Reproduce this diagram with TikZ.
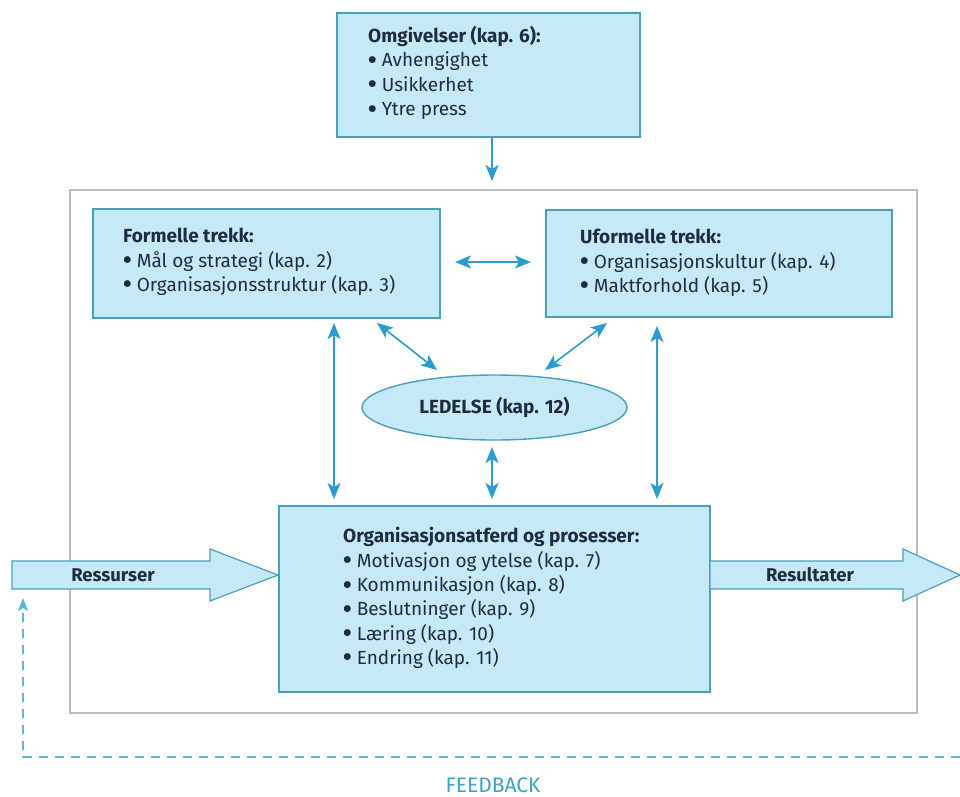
\documentclass[tikz,border=0pt]{standalone}
\usepackage{fontspec}
\setmainfont{Fira Sans}
\usetikzlibrary{arrows.meta,shapes.geometric,calc}
\definecolor{boxfill}{HTML}{C6E9F8}
\definecolor{boxline}{HTML}{4A9FBA}
\definecolor{arrowblue}{HTML}{2B9BD0}
\definecolor{txt}{HTML}{1F2D3A}
\definecolor{outergray}{HTML}{BDBDBD}
\definecolor{dashblue}{HTML}{5DB6D6}
\definecolor{fbtext}{HTML}{3DA3C2}
\newcommand{\bul}{\raisebox{-0.15ex}{\scalebox{1.3}{\bfseries\textbullet}}\ }
\begin{document}
\begin{tikzpicture}[x=1pt,y=-1pt,
  bluebox/.style={draw=boxline,fill=boxfill,line width=1.4pt,inner sep=0pt},
  boxtext/.style={anchor=west,align=left,text=txt,inner sep=0pt,font=\fontsize{19}{24.3}\selectfont},
  twoway/.style={draw=arrowblue,line width=1.6pt,{Stealth[length=16pt,width=13pt,inset=4pt]}-{Stealth[length=16pt,width=13pt,inset=4pt]}},
  oneway/.style={draw=arrowblue,line width=1.6pt,-{Stealth[length=16pt,width=13pt,inset=4pt]}},
  blockarrow/.style={draw=boxline,fill=boxfill,line width=1.2pt,line join=miter},
  arrowlabel/.style={text=txt,font=\fontsize{18.5}{20}\selectfont\bfseries,inner sep=0pt}]
\useasboundingbox (0,0) rectangle (960,796);
\fill[white] (0,0) rectangle (960,796);

% outer frame
\draw[outergray,line width=1.5pt] (70,190) rectangle (917,713);

% boxes
\node[bluebox,minimum width=303pt,minimum height=124pt] (omg) at (488.5,75) {};
\node[boxtext] (omgt) at (368,73) {\textbf{Omgivelser (kap. 6):}\\\bul Avhengighet\\\bul Usikkerhet\\\bul Ytre press};

\node[bluebox,minimum width=347pt,minimum height=109pt] (form) at (266.5,263.5) {};
\node[boxtext] (formt) at (123,262) {\textbf{Formelle trekk:}\\\bul Mål og strategi (kap. 2)\\\bul Organisasjonsstruktur (kap. 3)};

\node[bluebox,minimum width=346pt,minimum height=107pt] (uform) at (719,263.5) {};
\node[boxtext] (uformt) at (580,263) {\textbf{Uformelle trekk:}\\\bul Organisasjonskultur (kap. 4)\\\bul Maktforhold (kap. 5)};

\node[bluebox,minimum width=431pt,minimum height=186pt] (main) at (494.5,599) {};
\node[boxtext] (maint) at (343,598) {\textbf{Organisasjonsatferd og prosesser:}\\\bul Motivasjon og ytelse (kap. 7)\\\bul Kommunikasjon (kap. 8)\\\bul Beslutninger (kap. 9)\\\bul Læring (kap. 10)\\\bul Endring (kap. 11)};

\node[ellipse,draw=boxline,fill=boxfill,line width=1.4pt,minimum width=265pt,minimum height=65pt,inner sep=0pt,text=txt,font=\fontsize{19}{20}\selectfont\bfseries] (led) at (494.5,407.5) {LEDELSE (kap. 12)};

% block arrows
\coordinate (resTip) at (278,575);
\coordinate (resBase) at (12,575);
\draw[blockarrow] (resBase) ++(0,-14) -- (210,561) -- (210,549) -- (resTip) -- (210,601) -- (210,589) -- (12,589) -- cycle;
\node[arrowlabel] (resl) at (113,575) {Ressurser};

\coordinate (outTip) at (960,575);
\draw[blockarrow] (710,561) -- (903,561) -- (903,549) -- (outTip) -- (903,601) -- (903,589) -- (710,589) -- cycle;
\node[arrowlabel] (outl) at (810,575) {Resultater};

% connectors
\coordinate (omgEnd) at (492,181);
\draw[oneway] (omg.south -| omgEnd) -- (omgEnd);

\coordinate (hA) at (455,262);
\coordinate (hB) at (531,262);
\draw[twoway] (hA) -- (hB);

\coordinate (dA1) at (377,323);
\coordinate (dA2) at (437,370);
\draw[twoway] (dA1) -- (dA2);
\coordinate (dB1) at (607,323);
\coordinate (dB2) at (545,370);
\draw[twoway] (dB1) -- (dB2);

\coordinate (vL1) at (334,323);
\coordinate (vL2) at (334,499);
\draw[twoway] (vL1) -- (vL2);
\coordinate (vR1) at (657,326);
\coordinate (vR2) at (657,499);
\draw[twoway] (vR1) -- (vR2);
\coordinate (vM1) at (492,447);
\coordinate (vM2) at (492,499);
\draw[twoway] (vM1) -- (vM2);

% feedback
\coordinate (fbStart) at (960,757);
\coordinate (fbCorner) at (23,757);
\coordinate (fbEnd) at (23,598);
\draw[dashblue,line width=1.3pt,dash pattern=on 9pt off 7pt,-{Stealth[length=13pt,width=10pt,inset=3pt]}] (fbStart) -- (fbCorner) -- (fbEnd);
\node[text=fbtext,font=\fontsize{21}{24}\selectfont,inner sep=0pt] (fb) at (493,785) {FEEDBACK};
\end{tikzpicture}
\end{document}
